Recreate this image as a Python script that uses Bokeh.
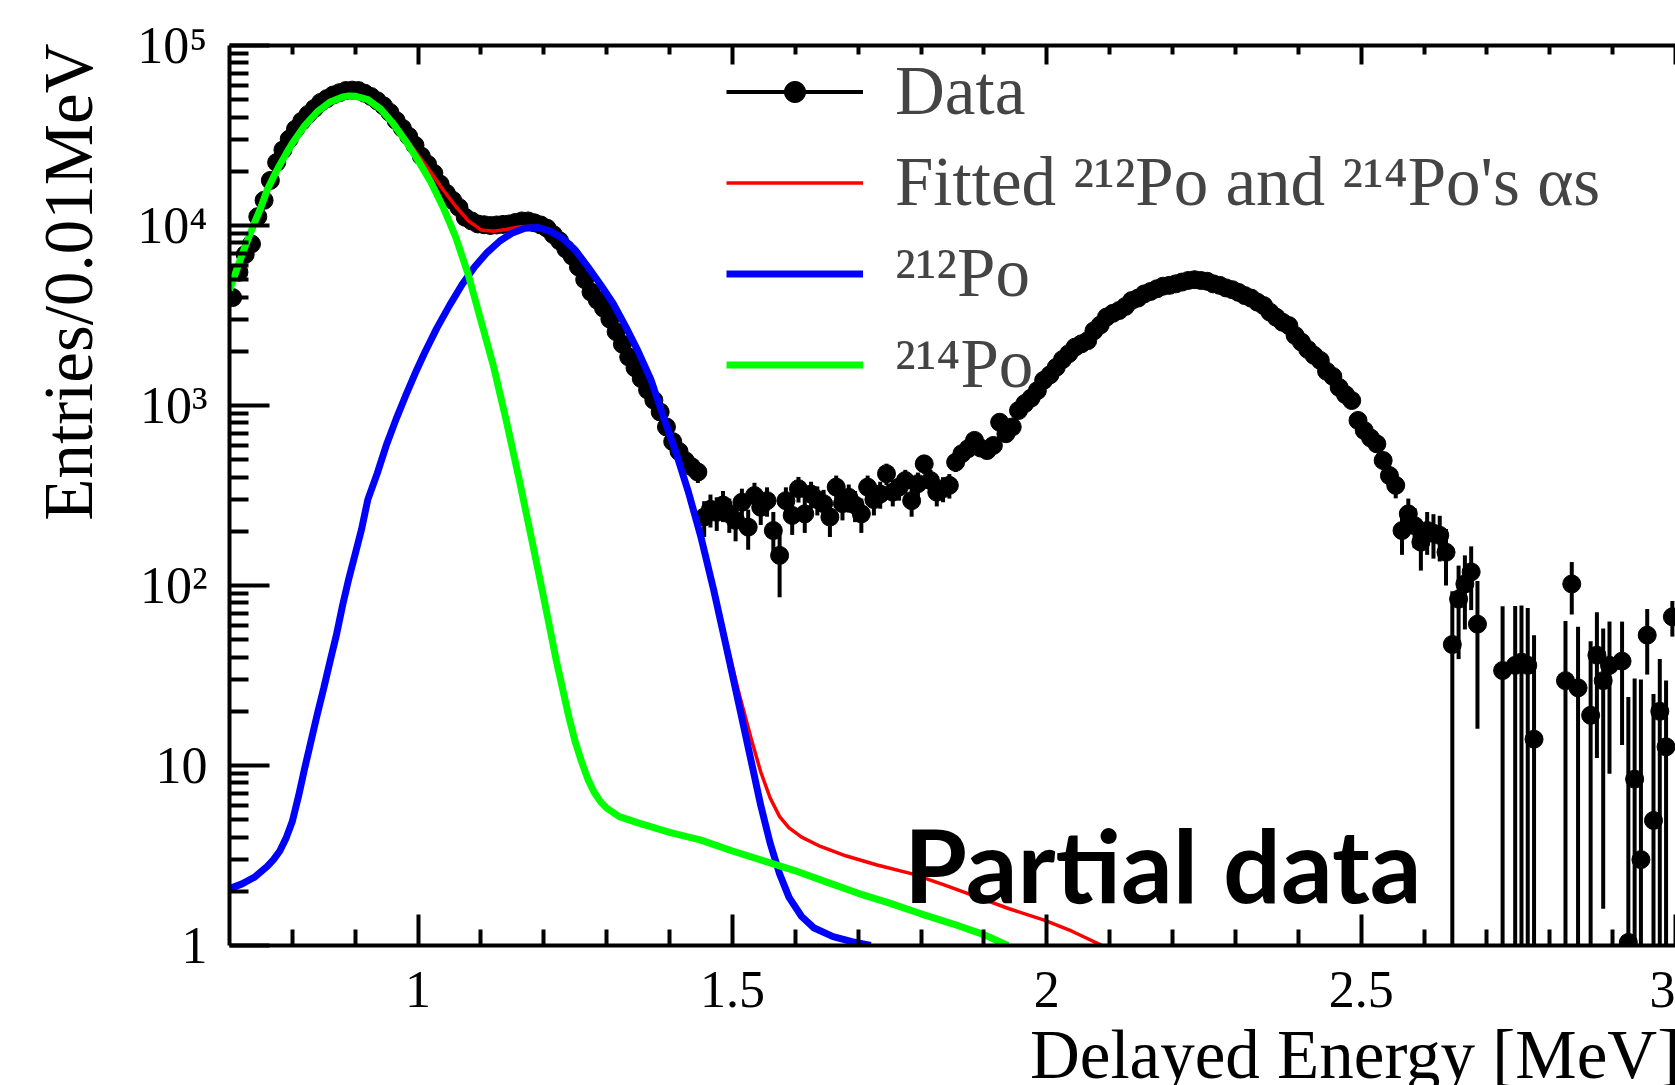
import numpy as np
from bokeh.plotting import figure
from bokeh.layouts import row, column
from bokeh.models import (Range1d, LinearAxis, FixedTicker, Label, Legend,
                          LegendItem, ColumnDataSource, CustomLabelingPolicy)
from bokeh.embed import file_html
from bokeh.resources import INLINE

# ---------------- data ----------------
bin_start = 0.705   # centre of first 0.01 MeV bin
bin_width = 0.01

counts = [
    3980, 5500, 6900, 7900, 11200, 13800, 17800, 22400, 26300, 30200,
    34300, 38000, 41400, 44700, 48300, 50700, 53100, 54700, 56200, 56500,
    56200, 54300, 52100, 49300, 46200, 42500, 38300, 34700, 31300, 27900,
    24300, 21900, 19500, 17000, 15100, 13800, 12600, 11100, 10600, 10200,
    10100, 10000, 10070, 10140, 10200, 10400, 10600, 10600, 10350, 10070,
    9660, 8900, 8220, 7410, 6760, 5890, 5010, 4270, 3850, 3470,
    3020, 2570, 2190, 1860, 1620, 1410, 1220, 1070, 920, 760,
    630, 556, 494, 457, 427,
    240, 265, 255, 280, 250, 230, 290, 211, 316, 272,
    296, 202, 147, 296, 245, 345, 250, 322, 300, 285,
    240, 352, 285, 309, 280, 250, 352, 300, 322, 418,
    330, 352, 383, 296, 368, 474, 383, 330, 345, 360,
    484, 540, 576, 640, 580, 562, 600, 807, 697, 760,
    938, 1025, 1100, 1210, 1380, 1480, 1630, 1800, 1940, 2110,
    2200, 2290, 2600, 2800, 3100, 3250, 3370, 3550, 3830, 3950,
    4170, 4300, 4450, 4600, 4650, 4740, 4850, 4950, 5000, 4950,
    4900, 4740, 4650, 4500, 4400, 4250, 4080, 3950, 3750, 3590,
    3300, 3090, 2900, 2780, 2450, 2250, 2050, 1900, 1780, 1550,
    1450, 1260, 1150, 1066, 826, 726, 660, 612, 495, 408,
    360, 202, 250, 215, 174, 202, 195, 190, 153, 47,
    84, 102, 119, 61, 0, 0, 0, 33.7, 0, 36,
    37.5, 36, 14, 0, 0, 0, 0, 29.6, 102, 27,
    0, 19, 41, 29.6, 36, 0, 38, 1.04, 8.4, 3.0,
    53, 4.95, 20, 12.7, 67,
]
errors = [
    82, 91, 98, 103, 118, 128, 143, 158, 170, 181,
    192, 202, 210, 218, 226, 231, 236, 240, 243, 243,
    243, 239, 234, 228, 221, 213, 202, 193, 184, 175,
    164, 157, 149, 140, 133, 128, 124, 117, 115, 114,
    113, 113, 113, 113, 114, 114, 115, 115, 114, 113,
    111, 108, 104, 101, 97, 93, 88, 83, 81, 79,
    76, 73, 70, 68, 66, 64, 63, 61, 60, 59,
    58, 57, 57, 56, 56,
    54, 55, 54, 55, 54, 54, 55, 53, 56, 55,
    55, 54, 61, 55, 54, 56, 54, 55, 55, 55,
    54, 56, 55, 55, 55, 54, 56, 55, 55, 57,
    55, 56, 56, 55, 56, 57, 56, 55, 55, 56,
    57, 57, 57, 58, 57, 57, 57, 59, 58, 59,
    60, 61, 62, 63, 64, 65, 66, 67, 68, 69,
    70, 71, 73, 74, 76, 77, 78, 79, 81, 82,
    83, 84, 85, 85, 86, 86, 87, 88, 88, 88,
    87, 86, 86, 85, 84, 83, 82, 81, 80, 79,
    77, 76, 75, 74, 72, 70, 69, 68, 67, 65,
    64, 63, 62, 61, 59, 58, 58, 57, 56, 56,
    55, 54, 54, 54, 53, 54, 54, 54, 53, 46,
    45, 45, 46, 45, 0, 0, 0, 43, 0, 41,
    40, 39, 39, 0, 0, 0, 0, 34, 33, 32,
    0, 30, 30, 28, 27, 0, 25, 23, 22, 27,
    21, 20, 19, 17, 15,
]

# fitted total: 212Po + 214Po alphas (red)
fit_x = [0.70, 0.72, 0.74, 0.76, 0.78, 0.80, 0.82, 0.84, 0.86, 0.88,
         0.90, 0.92, 0.94, 0.96, 0.98, 1.00, 1.02, 1.04, 1.06, 1.08,
         1.10, 1.12, 1.14, 1.16, 1.18, 1.20, 1.22, 1.25, 1.27, 1.29,
         1.31, 1.33, 1.35, 1.37, 1.39, 1.41, 1.43, 1.45, 1.47, 1.49,
         1.51, 1.53, 1.545, 1.56, 1.575, 1.59, 1.61, 1.64, 1.68, 1.73,
         1.786, 1.84, 1.891, 1.94, 1.997, 2.04, 2.088]
fit_y = [4372, 6902, 10402, 15803, 21703, 28605, 36010, 43020, 48540, 51880,
         52450, 50300, 44980, 37770, 30630, 24600, 19800, 15750, 12750, 10600,
         9450, 9300, 9500, 9800, 9900, 9650, 8950, 7315, 5910, 4706,
         3706, 2755, 2005, 1405, 875, 554, 334, 189, 99, 49.5,
         25.5, 14, 9.2, 6.6, 5.2, 4.5, 4.0, 3.55, 3.15, 2.8,
         2.5, 2.15, 1.85, 1.6, 1.38, 1.2, 1.0]

# 212Po component (blue)
po212_x = [0.70, 0.72, 0.74, 0.76, 0.77, 0.78, 0.79, 0.80, 0.81, 0.82,
           0.83, 0.84, 0.85, 0.86, 0.87, 0.88, 0.89, 0.90, 0.91, 0.92,
           0.935, 0.95, 0.965, 0.98, 0.995, 1.01, 1.03, 1.05, 1.07, 1.09,
           1.11, 1.13, 1.15, 1.17, 1.19, 1.21, 1.23, 1.25, 1.27, 1.29,
           1.31, 1.33, 1.35, 1.37, 1.39, 1.41, 1.43, 1.45, 1.47, 1.49,
           1.51, 1.53, 1.545, 1.56, 1.575, 1.59, 1.61, 1.63, 1.66, 1.69,
           1.72]
po212_y = [2.07, 2.2, 2.4, 2.75, 3.0, 3.35, 3.95, 4.9, 6.8, 9.8,
           13.8, 19.5, 27, 38, 53, 78, 110, 150, 205, 300,
           420, 610, 840, 1130, 1500, 1950, 2700, 3600, 4700, 5900,
           7100, 8200, 9100, 9650, 9750, 9300, 8500, 7300, 5900, 4700,
           3700, 2750, 2000, 1400, 870, 550, 330, 185, 95, 46,
           22, 10.5, 6.0, 3.7, 2.5, 1.85, 1.45, 1.25, 1.12, 1.05,
           1.0]

# 214Po component (green)
po214_x = [0.70, 0.71, 0.72, 0.73, 0.74, 0.75, 0.76, 0.77, 0.78, 0.79,
           0.80, 0.82, 0.84, 0.86, 0.88, 0.89, 0.90, 0.92, 0.94, 0.96,
           0.98, 1.00, 1.02, 1.04, 1.06, 1.08, 1.10, 1.12, 1.14, 1.16,
           1.18, 1.20, 1.22, 1.24, 1.25, 1.26, 1.27, 1.28, 1.29, 1.30,
           1.32, 1.35, 1.40, 1.45, 1.50, 1.55, 1.60, 1.65, 1.70, 1.75,
           1.80, 1.85, 1.90, 1.938]
po214_y = [4370, 5500, 6900, 8500, 10400, 12600, 15800, 18600, 21700, 25000,
           28600, 36000, 43000, 48500, 51800, 52500, 52300, 50000, 44500, 37000,
           29500, 23000, 17500, 12600, 8600, 5300, 2950, 1650, 830, 400,
           185, 85, 38, 18.5, 13.5, 10.5, 8.4, 7.1, 6.3, 5.8,
           5.2, 4.8, 4.25, 3.85, 3.35, 2.95, 2.6, 2.25, 1.95, 1.72,
           1.5, 1.32, 1.15, 1.0]

x_major = [1.0, 1.5, 2.0, 2.5, 3.0]
x_minor = [0.8, 0.9, 1.1, 1.2, 1.3, 1.4, 1.6, 1.7, 1.8, 1.9,
           2.1, 2.2, 2.3, 2.4, 2.6, 2.7, 2.8, 2.9]
x_tick_labels = ["1", "1.5", "2", "2.5", "3"]
y_major = [1, 10, 100, 1000, 10000, 100000]
y_tick_labels = ["1", "10", "10\u00b2", "10\u00b3", "10\u2074", "10\u2075"]
y_minor = [m * 10 ** d for d in range(5) for m in range(2, 10)]

legend_labels = ["Data",
                 "Fitted \u00b2\u00b9\u00b2Po and \u00b2\u00b9\u2074Po's \u03b1s",
                 "\u00b2\u00b9\u00b2Po",
                 "\u00b2\u00b9\u2074Po"]
x_title = "Delayed Energy [MeV]"
y_title = "Entries/0.01MeV"
stamp = "Partial data"

# ---------------- layout sizes (page pixels) ----------------
W, H = 1675, 1085
LEFT_W = 110          # strip holding the y title
BOTTOM_H = 60         # strip holding the x title
SERIF = "Liberation Serif"

# ---------------- build data source ----------------
xs = [round(bin_start + bin_width * i, 3) for i in range(len(counts))]
pts = [(x, c, e) for x, c, e in zip(xs, counts, errors) if c > 0]
src = ColumnDataSource(dict(
    x=[q[0] for q in pts],
    y=[q[1] for q in pts],
    lo=[max(q[1] - q[2], 0.3) for q in pts],
    hi=[q[1] + q[2] for q in pts],
))

p = figure(width=W - LEFT_W, height=H - BOTTOM_H,
           x_range=Range1d(0.7, 3.0), y_range=Range1d(1, 1e5),
           y_axis_type="log", output_backend="svg", toolbar_location=None,
           min_border_left=229 - LEFT_W, min_border_right=0,
           min_border_top=45, min_border_bottom=H - BOTTOM_H - 945)
p.outline_line_color = None
p.xgrid.visible = False
p.ygrid.visible = False

# ---------------- glyphs ----------------
seg = p.segment(x0="x", y0="lo", x1="x", y1="hi", source=src,
                line_color="black", line_width=4)
dots = p.scatter("x", "y", source=src, size=18, color="black")
red = p.line(fit_x, fit_y, line_color="#ff0000", line_width=3.5)
blue = p.line(po212_x, po212_y, line_color="#0000ff", line_width=7)
green = p.line(po214_x, po214_y, line_color="#00ff00", line_width=7)
vbar_legend = p.vspan(x=[], line_color="black", line_width=4)

# ---------------- axes ----------------
def style_axis(ax, tin, tmin):
    ax.axis_line_width = 4
    ax.major_tick_line_width = 4
    ax.minor_tick_line_width = 4
    ax.major_tick_in = tin
    ax.major_tick_out = 0
    ax.minor_tick_in = tmin
    ax.minor_tick_out = 0
    ax.major_label_text_font = SERIF
    ax.major_label_text_font_size = "52px"
    ax.major_label_text_color = "black"

xa = p.xaxis[0]
xa.ticker = FixedTicker(ticks=x_major, minor_ticks=x_minor)
xa.major_label_overrides = dict(zip(x_major, x_tick_labels))
style_axis(xa, 31, 16)
xa.major_label_standoff = 26

ya = p.yaxis[0]
ya.ticker = FixedTicker(ticks=y_major, minor_ticks=y_minor)
ya.major_label_overrides = dict(zip(y_major, y_tick_labels))
style_axis(ya, 40, 19)
ya.major_label_standoff = 22

top = LinearAxis(ticker=FixedTicker(ticks=x_major, minor_ticks=x_minor))
style_axis(top, 19, 9)
top.major_label_text_font_size = "10px"
top.major_label_standoff = 0
top.major_label_policy = CustomLabelingPolicy(code="return new Set()")
p.add_layout(top, "above")

# "Partial data" stamp (label anchored at its vertical middle)
p.add_layout(Label(x=1.773, y=2.87, text=stamp,
                   text_font="Lato", text_font_style="bold",
                   text_color="black", text_font_size="102px",
                   text_baseline="middle"))

# ---------------- legend ----------------
legend = Legend(items=[
    LegendItem(label=legend_labels[0], renderers=[seg, dots, vbar_legend]),
    LegendItem(label=legend_labels[1], renderers=[red]),
    LegendItem(label=legend_labels[2], renderers=[blue]),
    LegendItem(label=legend_labels[3], renderers=[green]),
], location=(497, 541), glyph_width=137, glyph_height=53,
    label_height=80, spacing=11, padding=0, margin=0, label_standoff=32,
    label_text_font=SERIF, label_text_font_size="69px",
    border_line_color=None, background_fill_alpha=0)
p.add_layout(legend)

# ---------------- title strips ----------------
def strip(width, height, x0, x1, y0, y1):
    f = figure(width=width, height=height, x_range=Range1d(x0, x1),
               y_range=Range1d(y1, y0), output_backend="svg",
               toolbar_location=None, min_border=0,
               x_axis_type=None, y_axis_type=None)
    f.outline_line_color = None
    f.grid.visible = False
    return f

left = strip(LEFT_W, H, 0, LEFT_W, 0, H)
left.add_layout(Label(x=91 - 23, y=43, angle=np.pi / 2, text=y_title,
                      text_align="right", text_baseline="middle",
                      text_font=SERIF, text_font_size="69px",
                      text_color="black"))

bottom = strip(W - LEFT_W, BOTTOM_H, LEFT_W, W, H - BOTTOM_H, H)
bottom.add_layout(Label(x=1680, y=1077 - 23, text=x_title,
                        text_align="right", text_baseline="middle",
                        text_font=SERIF, text_font_size="69px",
                        text_color="black"))

layout = row(left, column(p, bottom, spacing=0), spacing=0)
open("out.html", "w").write(file_html(layout, INLINE))
